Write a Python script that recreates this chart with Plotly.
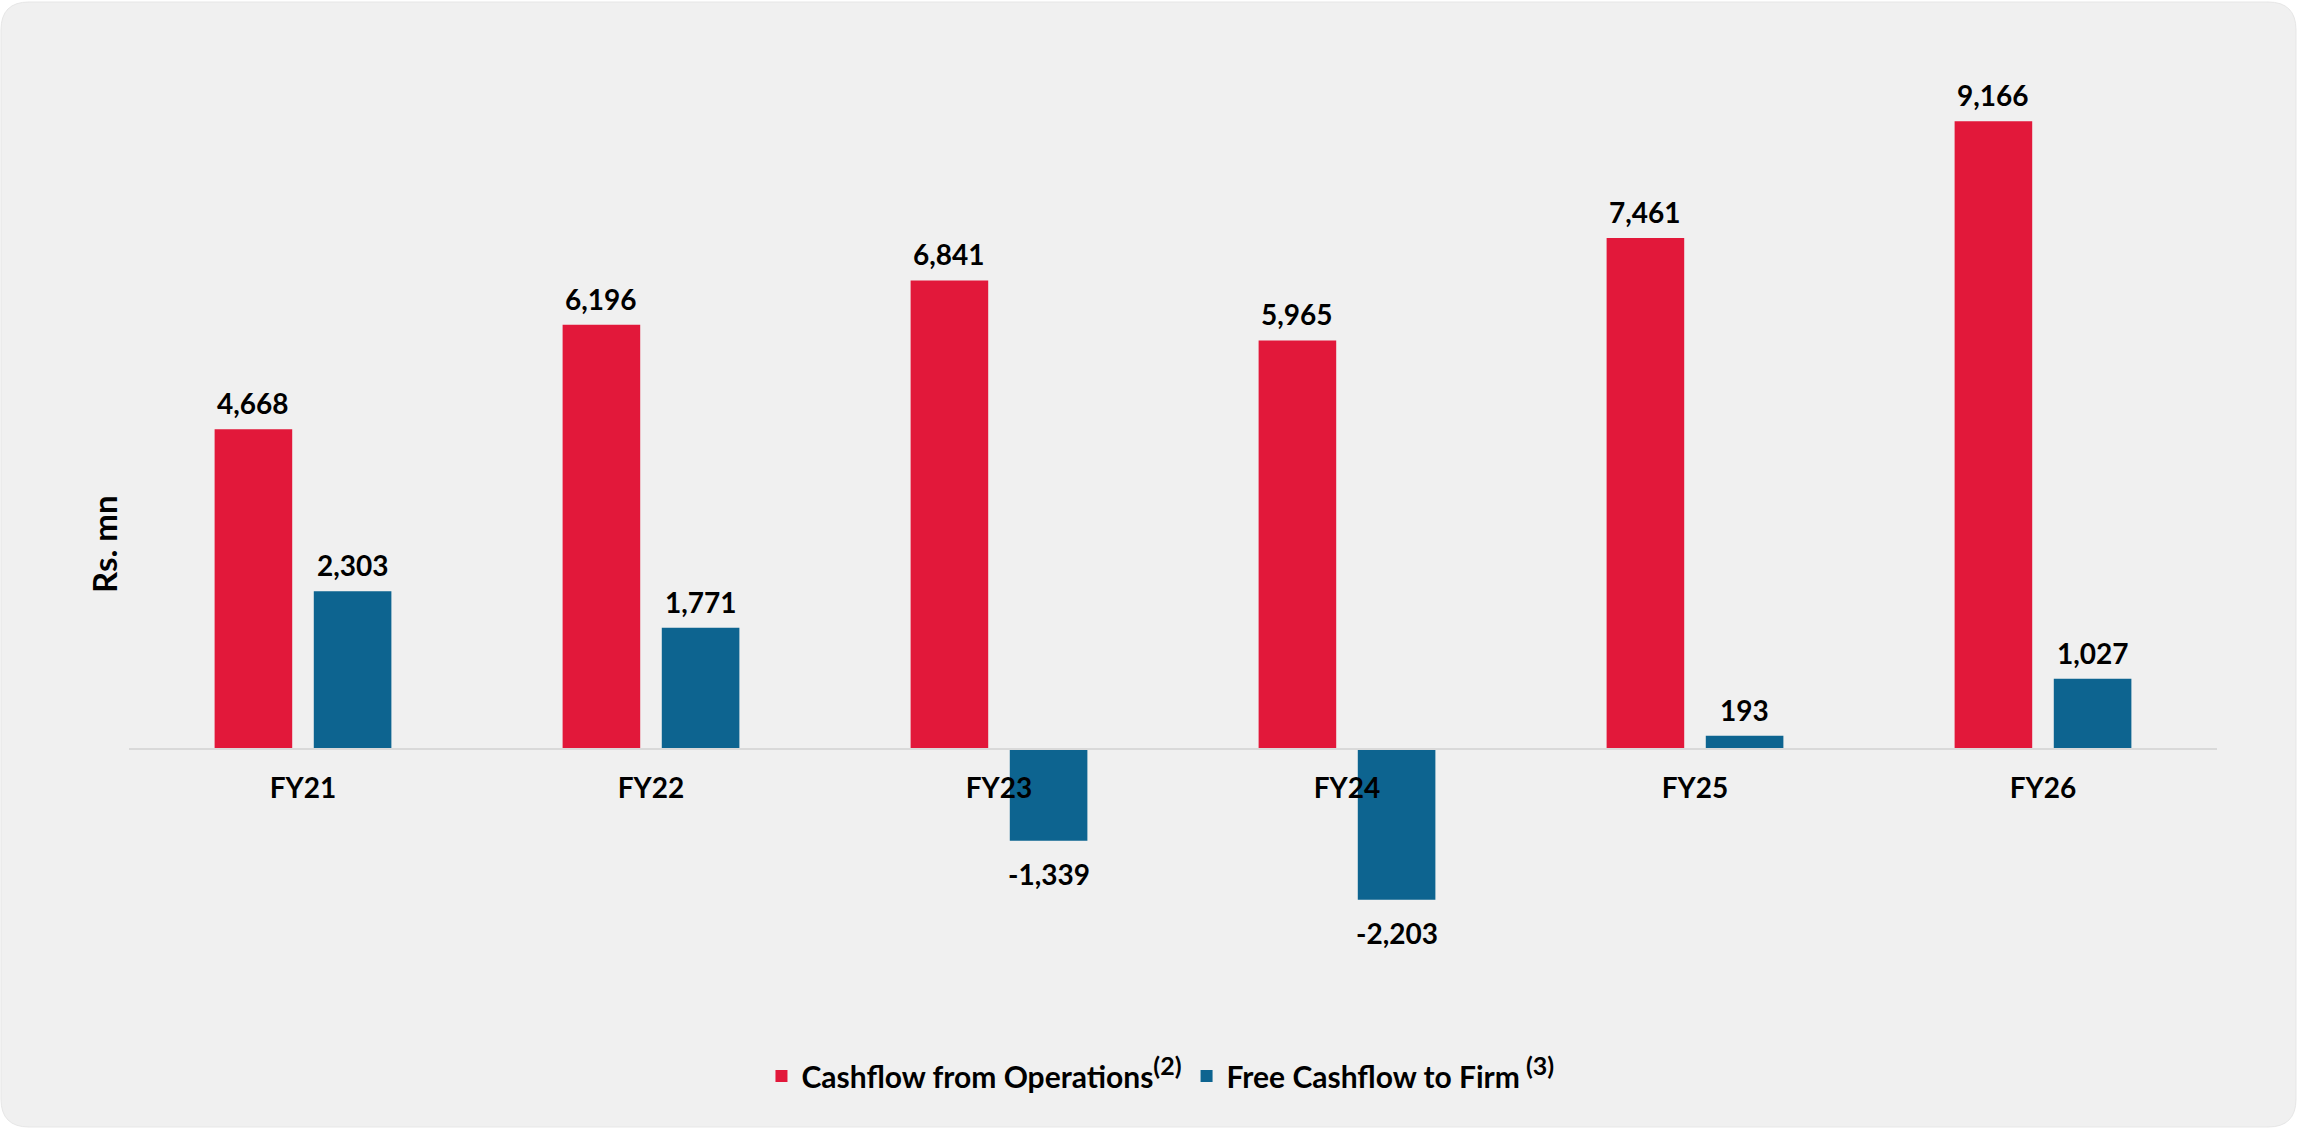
import plotly.graph_objects as go

# Fiscal years and cash-flow series (Rs. mn)
years = ["FY21", "FY22", "FY23", "FY24", "FY25", "FY26"]
cfo = [4668, 6196, 6841, 5965, 7461, 9166]
fcff = [2303, 1771, -1339, -2203, 193, 1027]
series_names = [
    "Cashflow from Operations<sup><span style='font-size:25px'>(2)</span></sup>",
    "Free Cashflow to Firm<sup><span style='font-size:25px'> (3)</span></sup>",
]

RED = "#E2183A"
BLUE = "#0D6490"
FONT = "Lato"
BW = 0.223          # bar width in category units
OFF = [-0.254, 0.031]  # left edge of each bar relative to category centre

W, H = 2297, 1128
ML, MR, MT, MB = 129, 80, 88, 128
PW, PH = W - ML - MR, H - MT - MB


def px_x(px):
    return (px - ML) / PW


def px_y(py):
    return (H - MB - py) / PH


fig = go.Figure()
for name, vals, col, off in [(series_names[0], cfo, RED, OFF[0]), (series_names[1], fcff, BLUE, OFF[1])]:
    fig.add_trace(go.Bar(
        x=years, y=vals, name=name, marker=dict(color=col, line=dict(width=0)),
        width=BW, offset=off,
    ))

# value labels above positive bars, below negative bars
annotations = []
for vals, off in [(cfo, OFF[0]), (fcff, OFF[1])]:
    for i, v in enumerate(vals):
        pos = v >= 0
        annotations.append(dict(
            x=i + off + BW / 2, y=v, xref="x", yref="y",
            text=f"{v:,}", showarrow=False,
            yanchor="bottom" if pos else "top",
            yshift=7 if pos else -14,
            font=dict(family=FONT, size=28, color="#000000", weight="bold"),
        ))

annotations.append(dict(
    x=px_x(104), y=px_y(544), xref="paper", yref="paper",
    text="<b>Rs. mn</b>", textangle=-90, showarrow=False,
    xanchor="center", yanchor="middle",
    font=dict(family=FONT, size=33, color="#000000"),
))

# rounded panel behind the chart
x0, x1, y0, y1, r = 1, 2296, 2, 1127, 28
pts = [
    ("M", (x0 + r, y0)), ("L", (x1 - r, y0)), ("Q", (x1, y0), (x1, y0 + r)),
    ("L", (x1, y1 - r)), ("Q", (x1, y1), (x1 - r, y1)),
    ("L", (x0 + r, y1)), ("Q", (x0, y1), (x0, y1 - r)),
    ("L", (x0, y0 + r)), ("Q", (x0, y0), (x0 + r, y0)),
]
path = ""
for seg in pts:
    cmd, coords = seg[0], seg[1:]
    path += cmd + " " + " ".join(f"{px_x(a):.6f},{px_y(b):.6f}" for a, b in coords) + " "
path += "Z"

ymin, ymax = -3665, 9651
zero_pos = (H - MB - 749) / PH

fig.update_layout(
    width=W, height=H,
    margin=dict(l=ML, r=MR, t=MT, b=MB),
    paper_bgcolor="#FFFFFF", plot_bgcolor="rgba(0,0,0,0)",
    barmode="overlay",
    font=dict(family=FONT, size=28, color="#000000"),
    showlegend=True,
    legend=dict(
        orientation="h", x=0.494, xanchor="center", y=px_y(1076), yanchor="middle",
        font=dict(family=FONT, size=30, color="#000000", weight="bold"),
        bgcolor="rgba(0,0,0,0)", itemwidth=30, traceorder="normal",
    ),
    xaxis=dict(
        type="category", range=[-0.5, 5.5], anchor="free", position=zero_pos,
        showline=True, linecolor="#D9D9D9", linewidth=2,
        showgrid=False, zeroline=False, ticks="",
        tickfont=dict(family=FONT, size=28, color="#000000", weight="bold"),
        ticklabelstandoff=14, fixedrange=True,
    ),
    yaxis=dict(
        range=[ymin, ymax], showgrid=False, zeroline=False,
        showticklabels=False, showline=False, ticks="", fixedrange=True,
    ),
    shapes=[dict(
        type="path", path=path, xref="paper", yref="paper", layer="below",
        fillcolor="#F0F0F0", line=dict(color="#E6E6E6", width=1),
    )],
    annotations=annotations,
)

fig.write_html("out.html")
